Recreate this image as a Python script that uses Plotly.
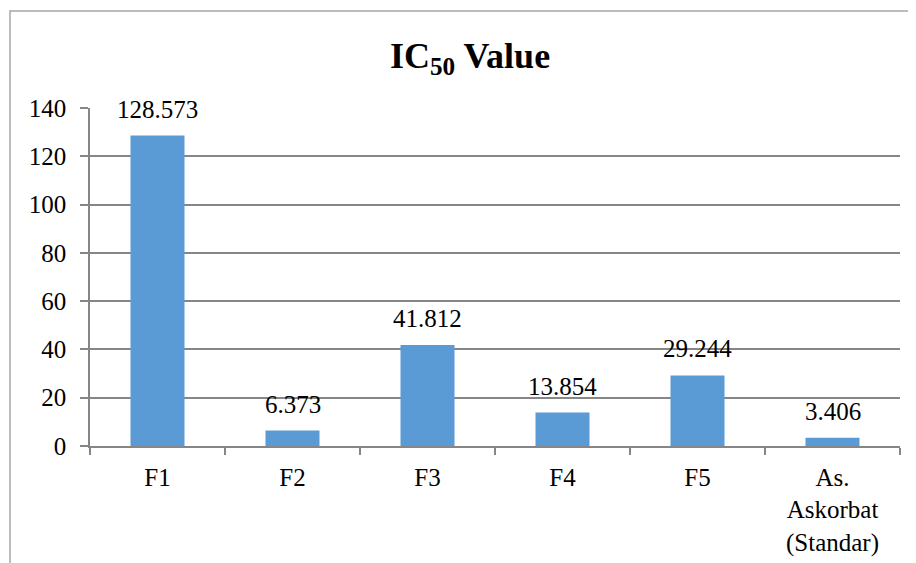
import plotly.graph_objects as go

categories = ["F1", "F2", "F3", "F4", "F5", "As.<br>Askorbat<br>(Standar)"]
values = [128.573, 6.373, 41.812, 13.854, 29.244, 3.406]
labels = ["128.573", "6.373", "41.812", "13.854", "29.244", "3.406"]
y_ticks = [0, 20, 40, 60, 80, 100, 120, 140]

FONT = "Liberation Serif"
W, H = 908, 555  # page body has an 8px margin
L, R, T, B = 82, 16, 100, 117
PW, PH = W - L - R, H - T - B

fig = go.Figure()
fig.add_trace(go.Bar(x=categories, y=values, marker_color="#5B9BD5",
                     marker_line_width=0, width=0.4))

for c, v, t in zip(categories, values, labels):
    fig.add_annotation(x=c, y=v, text=t, showarrow=False, yanchor="bottom",
                       yshift=11, font=dict(family=FONT, size=25, color="#000"))

fig.add_shape(type="rect", xref="paper", yref="paper",
              x0=(2 - L) / PW, x1=1.2, y0=-0.5, y1=1 + (T - 3) / PH,
              line=dict(color="#A6A6A6", width=1.5), layer="below")

fig.update_layout(
    width=W, height=H,
    margin=dict(l=L, r=R, t=T, b=B, autoexpand=False),
    plot_bgcolor="white", paper_bgcolor="white",
    showlegend=False,
    bargap=0.6,
    title=dict(text="<b>IC<sub>50</sub> Value</b>", x=462 / W, xanchor="center",
               y=1 - 47 / H, yanchor="middle",
               font=dict(family=FONT, size=36, color="#000")),
    font=dict(family=FONT, size=25, color="#000"),
)
fig.update_xaxes(showline=True, linecolor="#868686", linewidth=1.5,
                 ticks="outside", tickson="boundaries", ticklen=7,
                 tickcolor="#868686", tickwidth=1.5, showgrid=False,
                 automargin=False, ticklabelstandoff=8,
                 tickfont=dict(family=FONT, size=25, color="#000"))
fig.update_yaxes(range=[0, 140], tickvals=y_ticks, showline=True,
                 linecolor="#868686", linewidth=1.5, ticks="outside",
                 ticklen=8, tickcolor="#868686", tickwidth=1.5,
                 showgrid=True, gridcolor="#868686", gridwidth=1.5,
                 zeroline=False, ticklabelstandoff=9, automargin=False,
                 tickfont=dict(family=FONT, size=25, color="#000"))

fig.write_html("out.html")
